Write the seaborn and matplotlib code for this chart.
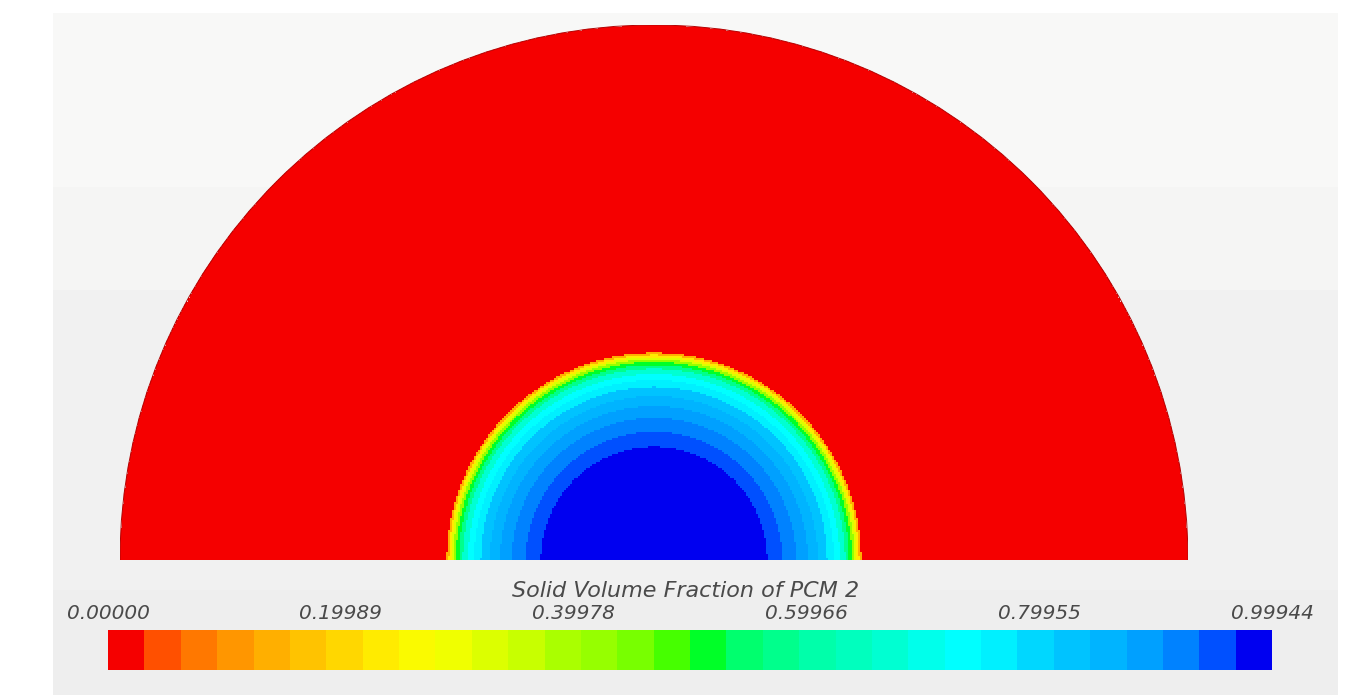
import numpy as np
import pandas as pd
import seaborn as sns
import matplotlib
matplotlib.use("Agg")
import matplotlib.pyplot as plt
from matplotlib.colors import ListedColormap, Normalize
from matplotlib.cm import ScalarMappable
from matplotlib.patches import Wedge, Arc, Rectangle

# ---- colour scale ----
scale_min = 0.0
scale_max = 0.99944
level_colors = [
    "#f50000", "#ff5000", "#ff7800", "#ff9600", "#ffaf00", "#ffc300", "#ffd700", "#ffeb00",
    "#fafa00", "#f0ff00", "#dcff00", "#c8ff00", "#aaff00", "#96ff00", "#78ff00", "#46ff00",
    "#00ff28", "#00ff6e", "#00ff8c", "#00ffaa", "#00ffbe", "#00ffd2", "#00ffeb", "#00ffff",
    "#00f0ff", "#00d7ff", "#00c3ff", "#00b4ff", "#00a0ff", "#0082ff", "#0050ff", "#0000f0",
]
tick_values = [0.0, 0.19989, 0.39978, 0.59966, 0.79955, 0.99944]
tick_labels = ["0.00000", "0.19989", "0.39978", "0.59966", "0.79955", "0.99944"]
scale_title = "Solid Volume Fraction of PCM 2"

# ---- radial bands of solid fraction (outer edge given as r / R_outer) ----
band_outer_radius = [0.212, 0.240, 0.266, 0.288, 0.307, 0.324, 0.337, 0.348,
                     0.358, 0.365, 0.371, 0.376, 0.380, 0.384, 0.388, 1.0]
band_fraction = [0.99944, 0.95, 0.92, 0.89, 0.86, 0.82, 0.77, 0.73,
                 0.67, 0.58, 0.51, 0.42, 0.33, 0.23, 0.14, 0.0]

# ---- cell grid over the half domain ----
nx, ny = 534, 267
xc = -1.0 + (np.arange(nx) + 0.5) * 2.0 / nx
yc = 1.0 - (np.arange(ny) + 0.5) / ny          # top row first
X, Y = np.meshgrid(xc, yc)
R = np.hypot(X, Y)
idx = np.clip(np.searchsorted(band_outer_radius, R), 0, len(band_fraction) - 1)
field = np.where(R <= 1.0, np.asarray(band_fraction)[idx], np.nan)
field_df = pd.DataFrame(field, index=np.round(yc, 4), columns=np.round(xc, 4))

cmap = ListedColormap(level_colors)

sns.set_theme(style="white")
plt.rcParams["font.family"] = ["DejaVu Sans"]

W, H = 1348, 695
fig = plt.figure(figsize=(W / 100, H / 100), dpi=100)
fig.patch.set_facecolor("white")

# stepped grey backdrop
for top, bottom, col in [(13, 187, "#f8f8f7"), (187, 290, "#f5f5f4"),
                         (290, 590, "#f1f1f1"), (590, 695, "#eeeeee")]:
    fig.patches.append(Rectangle((53 / W, 1 - bottom / H), (1338 - 53) / W, (bottom - top) / H,
                                 transform=fig.transFigure, facecolor=col, edgecolor="none",
                                 zorder=-10))

# ---- contour field ----
ax = fig.add_axes([120 / W, 135 / H, 1068 / W, 535 / H])
sns.heatmap(field_df, ax=ax, cmap=cmap, vmin=scale_min, vmax=scale_max,
            cbar=False, xticklabels=False, yticklabels=False, linewidths=0)
ax.set_facecolor("none")
mesh = ax.collections[0]
clip = Wedge((nx / 2, ny), nx / 2, 180, 360, transform=ax.transData)
mesh.set_clip_path(clip)
ax.add_patch(Arc((nx / 2, ny), nx, 2 * ny, theta1=180, theta2=360,
                 color="#b40000", lw=0.7))
ax.set_xlim(0, nx)
ax.set_ylim(ny, 0)
ax.axis("off")

# ---- colour bar ----
cax = fig.add_axes([108 / W, 25 / H, 1164 / W, 40 / H])
sm = ScalarMappable(norm=Normalize(scale_min, scale_max), cmap=cmap)
cb = fig.colorbar(sm, cax=cax, orientation="horizontal")
cb.outline.set_visible(False)
cb.set_ticks(tick_values)
cb.set_ticklabels(tick_labels)
cax.xaxis.set_ticks_position("top")
cax.tick_params(axis="x", length=0, pad=5, labelsize=14.5, labelcolor="#4a4a4a")
for t in cax.get_xticklabels():
    t.set_fontstyle("italic")

fig.text(686 / W, 1 - 591 / H, scale_title, ha="center", va="center",
         fontsize=16, fontstyle="italic", color="#4a4a4a")

fig.savefig("out.png", dpi=100)
